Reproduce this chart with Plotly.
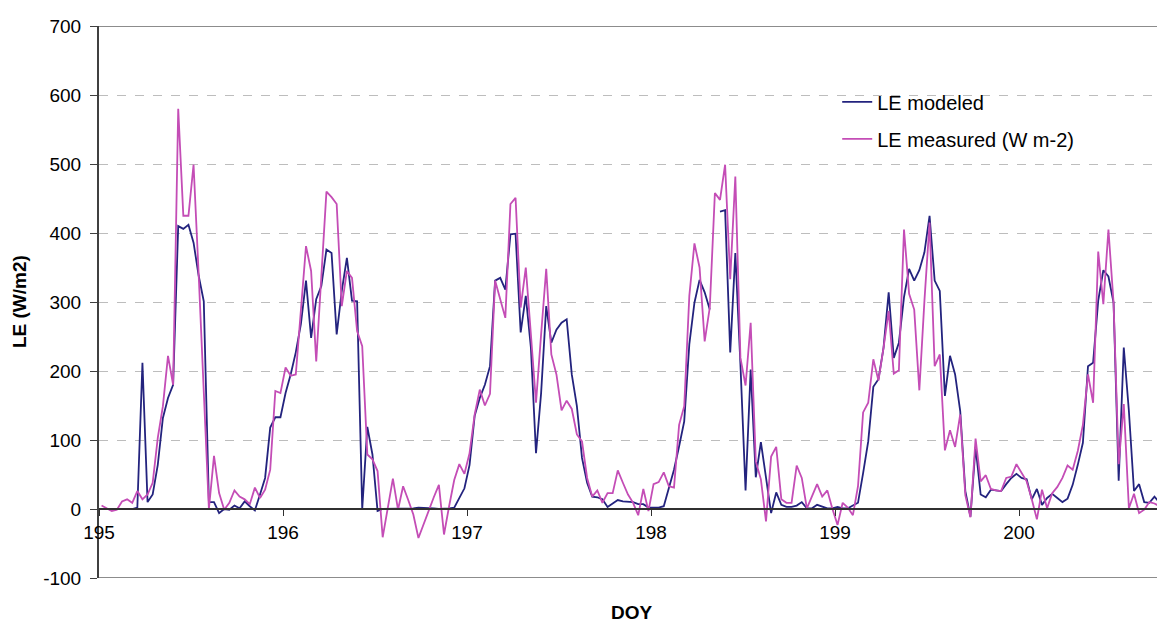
import numpy as np
import plotly.graph_objects as go

# 40-min steps (36 per day)
steps_per_day = 36
start_doy = 195

le_modeled = [
    0, 0, 0, 0, 0, 0, 0, 2, 212, 10, 21, 64, 132, 161, 180, 410, 406, 412, 386, 338,
    301, 10, 10, -6, 0, -1, 5, 1, 11, 4, -2, 21, 45, 118, 133, 133, 168, 195, 227, 268,
    331, 248, 304, 323, 376, 371, 253, 316, 364, 302, 301, 0, 119, 79, -3, 0, 0, 0, 0, 0,
    0, 1, 2, 2, 2, 1, 0, 0, 1, 2, 15, 30, 64, 135, 161, 180, 207, 331, 335, 318,
    398, 399, 256, 309, 234, 81, 168, 294, 241, 260, 270, 275, 195, 149, 74, 38, 18, 17, 14, 3,
    8, 13, 11, 10, 10, 7, 7, 2, 2, 2, 4, 30, 57, 91, 127, 239, 299, 332, 314, 289,
    None, 431, 433, 227, 371, 209, 27, 202, 46, 97, 45, -6, 24, 6, 3, 3, 5, 10, 1, 1,
    6, 4, 1, 1, 3, 1, 1, 5, 9, 52, 98, 177, 188, 234, 314, 219, 241, 307, 348, 331,
    346, 372, 425, 331, 316, 164, 222, 195, 142, 26, -11, 90, 21, 17, 28, 27, 26, 36, 45, 51,
    45, 43, 14, 29, 6, 16, 22, 16, 10, 15, 35, 64, 96, 207, 212, 302, 346, 337, 299, 41,
    234, 142, 26, 36, 10, 9, 18, 9, 12,
]

le_measured = [
    5, 1, -3, -1, 11, 14, 9, 26, 14, 21, 38, 103, 149, 222, 180, 580, 425, 425, 499, 340,
    180, 0, 77, 23, -1, 9, 27, 18, 14, 7, 31, 16, 28, 57, 171, 168, 205, 193, 195, 292,
    381, 345, 214, 337, 460, 452, 442, 294, 345, 335, 258, 236, 79, 72, 55, -41, 0, 44, -1, 33,
    13, -8, -42, -22, -1, 17, 35, -37, 4, 42, 65, 51, 81, 137, 173, 150, 167, 331, 304, 277,
    442, 451, 292, 350, 253, 154, 253, 348, 224, 195, 143, 157, 145, 108, 98, 45, 18, 27, 9, 23,
    23, 56, 38, 21, 9, -9, 29, -3, 36, 39, 53, 33, 31, 122, 149, 309, 385, 350, 243, 292,
    458, 448, 499, 333, 482, 219, 179, 270, 69, 43, -18, 76, 90, 14, 9, 9, 63, 45, 1, 18,
    36, 18, 27, 0, -23, 9, 2, -9, 33, 140, 154, 217, 186, 234, 287, 196, 201, 405, 312, 289,
    172, 302, 415, 207, 224, 85, 114, 90, 137, 20, -12, 102, 40, 49, 29, 27, 26, 45, 47, 65,
    52, 40, 14, -15, 28, 1, 23, 32, 45, 63, 57, 84, 122, 195, 154, 373, 297, 405, 299, 65,
    152, 1, 22, -6, -1, 10, 8, 4, 10,
]

doy_ticks = [195, 196, 197, 198, 199, 200]
le_ticks = [-100, 0, 100, 200, 300, 400, 500, 600, 700]

doy = start_doy + (np.arange(len(le_modeled)) + 0.5) / steps_per_day

font = "Liberation Sans, Arial, sans-serif"

fig = go.Figure()

fig.add_trace(
    go.Scatter(
        x=doy,
        y=le_modeled,
        mode="lines",
        name="LE modeled",
        line=dict(color="#23237E", width=1.8),
        connectgaps=False,
        legendgroup="a",
    )
)
fig.add_trace(
    go.Scatter(
        x=doy,
        y=le_measured,
        mode="lines",
        name="LE measured (W m-2)",
        line=dict(color="#C44DB6", width=1.8),
        legendgroup="b",
    )
)

# page has an 8px body margin, so the figure is 8px smaller than the window
x_max = 195 + 1066 / 184

fig.update_layout(
    width=1157,
    height=615,
    margin=dict(l=91, r=0, t=18, b=45),
    plot_bgcolor="white",
    paper_bgcolor="white",
    font=dict(family=font, size=19, color="black"),
    showlegend=True,
    legend=dict(
        x=0.6925,
        y=0.898,
        xanchor="left",
        yanchor="top",
        bgcolor="rgba(0,0,0,0)",
        font=dict(size=20),
        tracegroupgap=8,
    ),
    xaxis=dict(
        range=[195, x_max],
        tickvals=doy_ticks,
        ticktext=[str(t) for t in doy_ticks],
        showgrid=False,
        zeroline=False,
        showline=True,
        linecolor="#303030",
        linewidth=2,
        ticks="outside",
        ticklen=6,
        tickcolor="#303030",
        anchor="free",
        position=0.125,
        tickfont=dict(size=19),
    ),
    yaxis=dict(
        range=[-100, 700],
        tickvals=le_ticks,
        ticktext=[str(t) for t in le_ticks],
        showgrid=True,
        gridcolor="#BDBDBD",
        griddash="dash",
        gridwidth=1,
        zeroline=False,
        showline=True,
        linecolor="#404040",
        linewidth=2,
        ticks="outside",
        ticklen=7,
        tickcolor="#404040",
        ticklabelstandoff=5,
        tickfont=dict(size=19),
    ),
    shapes=[
        dict(type="line", xref="paper", yref="y", x0=0, x1=1, y0=700, y1=700,
             line=dict(color="#8C8C8C", width=2)),
        dict(type="line", xref="paper", yref="y", x0=0, x1=1, y0=-100, y1=-100,
             line=dict(color="#8C8C8C", width=2)),
    ],
    annotations=[
        dict(text="<b>DOY</b>", xref="paper", yref="paper", x=0.5, y=-0.0634,
             showarrow=False, font=dict(size=19), yanchor="middle"),
        dict(text="<b>LE (W/m2)</b>", xref="paper", yref="paper", x=-0.075, y=0.5,
             textangle=-90, showarrow=False, font=dict(size=19),
             xanchor="center", yanchor="middle"),
    ],
)

fig.write_html("out.html")
